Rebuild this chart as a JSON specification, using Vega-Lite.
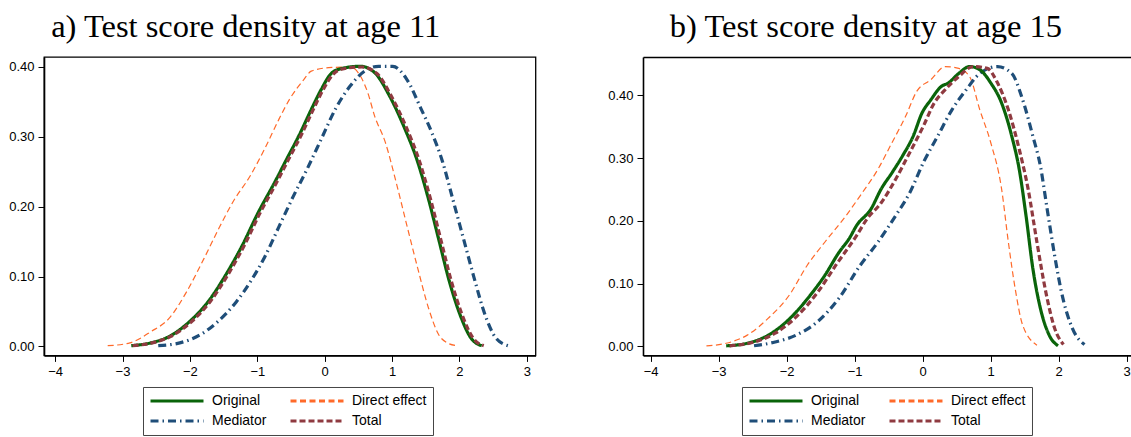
{
  "$schema": "https://vega.github.io/schema/vega-lite/v6.json",
  "padding": {"left": 8, "top": 10, "right": 0, "bottom": 0},
  "spacing": 70,
  "datasets": {
    "age11": [
      {"series": "Direct effect", "x": -3.22, "y": 0.001},
      {"series": "Direct effect", "x": -2.89, "y": 0.005},
      {"series": "Direct effect", "x": -2.58, "y": 0.021},
      {"series": "Direct effect", "x": -2.31, "y": 0.040},
      {"series": "Direct effect", "x": -2.05, "y": 0.078},
      {"series": "Direct effect", "x": -1.79, "y": 0.126},
      {"series": "Direct effect", "x": -1.57, "y": 0.169},
      {"series": "Direct effect", "x": -1.36, "y": 0.207},
      {"series": "Direct effect", "x": -1.10, "y": 0.245},
      {"series": "Direct effect", "x": -0.89, "y": 0.283},
      {"series": "Direct effect", "x": -0.68, "y": 0.325},
      {"series": "Direct effect", "x": -0.52, "y": 0.354},
      {"series": "Direct effect", "x": -0.31, "y": 0.382},
      {"series": "Direct effect", "x": -0.20, "y": 0.394},
      {"series": "Direct effect", "x": 0.06, "y": 0.399},
      {"series": "Direct effect", "x": 0.38, "y": 0.400},
      {"series": "Direct effect", "x": 0.53, "y": 0.387},
      {"series": "Direct effect", "x": 0.64, "y": 0.363},
      {"series": "Direct effect", "x": 0.74, "y": 0.330},
      {"series": "Direct effect", "x": 0.90, "y": 0.292},
      {"series": "Direct effect", "x": 1.06, "y": 0.235},
      {"series": "Direct effect", "x": 1.22, "y": 0.173},
      {"series": "Direct effect", "x": 1.38, "y": 0.112},
      {"series": "Direct effect", "x": 1.54, "y": 0.055},
      {"series": "Direct effect", "x": 1.69, "y": 0.017},
      {"series": "Direct effect", "x": 1.82, "y": 0.005},
      {"series": "Direct effect", "x": 1.96, "y": 0.001},

      {"series": "Mediator", "x": -2.47, "y": 0.001},
      {"series": "Mediator", "x": -2.15, "y": 0.005},
      {"series": "Mediator", "x": -1.84, "y": 0.017},
      {"series": "Mediator", "x": -1.58, "y": 0.036},
      {"series": "Mediator", "x": -1.31, "y": 0.064},
      {"series": "Mediator", "x": -1.10, "y": 0.093},
      {"series": "Mediator", "x": -0.89, "y": 0.128},
      {"series": "Mediator", "x": -0.68, "y": 0.171},
      {"series": "Mediator", "x": -0.47, "y": 0.214},
      {"series": "Mediator", "x": -0.26, "y": 0.254},
      {"series": "Mediator", "x": -0.05, "y": 0.297},
      {"series": "Mediator", "x": 0.16, "y": 0.340},
      {"series": "Mediator", "x": 0.38, "y": 0.373},
      {"series": "Mediator", "x": 0.59, "y": 0.394},
      {"series": "Mediator", "x": 0.80, "y": 0.401},
      {"series": "Mediator", "x": 1.01, "y": 0.401},
      {"series": "Mediator", "x": 1.22, "y": 0.382},
      {"series": "Mediator", "x": 1.43, "y": 0.340},
      {"series": "Mediator", "x": 1.59, "y": 0.306},
      {"series": "Mediator", "x": 1.75, "y": 0.264},
      {"series": "Mediator", "x": 1.90, "y": 0.211},
      {"series": "Mediator", "x": 2.06, "y": 0.154},
      {"series": "Mediator", "x": 2.22, "y": 0.097},
      {"series": "Mediator", "x": 2.38, "y": 0.045},
      {"series": "Mediator", "x": 2.54, "y": 0.012},
      {"series": "Mediator", "x": 2.72, "y": 0.001},

      {"series": "Original", "x": -2.87, "y": 0.001},
      {"series": "Original", "x": -2.58, "y": 0.005},
      {"series": "Original", "x": -2.31, "y": 0.014},
      {"series": "Original", "x": -2.00, "y": 0.036},
      {"series": "Original", "x": -1.73, "y": 0.064},
      {"series": "Original", "x": -1.47, "y": 0.102},
      {"series": "Original", "x": -1.21, "y": 0.147},
      {"series": "Original", "x": -1.00, "y": 0.189},
      {"series": "Original", "x": -0.73, "y": 0.237},
      {"series": "Original", "x": -0.57, "y": 0.267},
      {"series": "Original", "x": -0.36, "y": 0.306},
      {"series": "Original", "x": -0.20, "y": 0.339},
      {"series": "Original", "x": -0.05, "y": 0.368},
      {"series": "Original", "x": 0.09, "y": 0.390},
      {"series": "Original", "x": 0.22, "y": 0.397},
      {"series": "Original", "x": 0.53, "y": 0.401},
      {"series": "Original", "x": 0.74, "y": 0.392},
      {"series": "Original", "x": 0.96, "y": 0.359},
      {"series": "Original", "x": 1.17, "y": 0.316},
      {"series": "Original", "x": 1.38, "y": 0.264},
      {"series": "Original", "x": 1.54, "y": 0.211},
      {"series": "Original", "x": 1.69, "y": 0.154},
      {"series": "Original", "x": 1.85, "y": 0.093},
      {"series": "Original", "x": 2.01, "y": 0.045},
      {"series": "Original", "x": 2.17, "y": 0.012},
      {"series": "Original", "x": 2.33, "y": 0.001},

      {"series": "Total", "x": -2.85, "y": 0.001},
      {"series": "Total", "x": -2.56, "y": 0.005},
      {"series": "Total", "x": -2.29, "y": 0.014},
      {"series": "Total", "x": -1.97, "y": 0.036},
      {"series": "Total", "x": -1.70, "y": 0.064},
      {"series": "Total", "x": -1.44, "y": 0.102},
      {"series": "Total", "x": -1.18, "y": 0.147},
      {"series": "Total", "x": -0.97, "y": 0.189},
      {"series": "Total", "x": -0.70, "y": 0.237},
      {"series": "Total", "x": -0.54, "y": 0.267},
      {"series": "Total", "x": -0.33, "y": 0.306},
      {"series": "Total", "x": -0.17, "y": 0.339},
      {"series": "Total", "x": -0.02, "y": 0.368},
      {"series": "Total", "x": 0.12, "y": 0.389},
      {"series": "Total", "x": 0.25, "y": 0.397},
      {"series": "Total", "x": 0.55, "y": 0.400},
      {"series": "Total", "x": 0.77, "y": 0.391},
      {"series": "Total", "x": 0.99, "y": 0.358},
      {"series": "Total", "x": 1.20, "y": 0.316},
      {"series": "Total", "x": 1.41, "y": 0.264},
      {"series": "Total", "x": 1.57, "y": 0.211},
      {"series": "Total", "x": 1.72, "y": 0.154},
      {"series": "Total", "x": 1.88, "y": 0.093},
      {"series": "Total", "x": 2.04, "y": 0.045},
      {"series": "Total", "x": 2.20, "y": 0.012},
      {"series": "Total", "x": 2.36, "y": 0.001}
    ],
    "age15": [
      {"series": "Direct effect", "x": -3.18, "y": 0.001},
      {"series": "Direct effect", "x": -2.89, "y": 0.005},
      {"series": "Direct effect", "x": -2.58, "y": 0.018},
      {"series": "Direct effect", "x": -2.27, "y": 0.045},
      {"series": "Direct effect", "x": -1.96, "y": 0.082},
      {"series": "Direct effect", "x": -1.70, "y": 0.129},
      {"series": "Direct effect", "x": -1.44, "y": 0.166},
      {"series": "Direct effect", "x": -1.13, "y": 0.208},
      {"series": "Direct effect", "x": -0.92, "y": 0.240},
      {"series": "Direct effect", "x": -0.66, "y": 0.282},
      {"series": "Direct effect", "x": -0.45, "y": 0.325},
      {"series": "Direct effect", "x": -0.25, "y": 0.367},
      {"series": "Direct effect", "x": -0.09, "y": 0.406},
      {"series": "Direct effect", "x": 0.12, "y": 0.425},
      {"series": "Direct effect", "x": 0.33, "y": 0.446},
      {"series": "Direct effect", "x": 0.53, "y": 0.443},
      {"series": "Direct effect", "x": 0.69, "y": 0.430},
      {"series": "Direct effect", "x": 0.84, "y": 0.377},
      {"series": "Direct effect", "x": 1.00, "y": 0.325},
      {"series": "Direct effect", "x": 1.16, "y": 0.251},
      {"series": "Direct effect", "x": 1.26, "y": 0.166},
      {"series": "Direct effect", "x": 1.36, "y": 0.092},
      {"series": "Direct effect", "x": 1.47, "y": 0.034},
      {"series": "Direct effect", "x": 1.68, "y": 0.002},

      {"series": "Mediator", "x": -2.48, "y": 0.001},
      {"series": "Mediator", "x": -2.17, "y": 0.007},
      {"series": "Mediator", "x": -1.86, "y": 0.018},
      {"series": "Mediator", "x": -1.54, "y": 0.040},
      {"series": "Mediator", "x": -1.23, "y": 0.077},
      {"series": "Mediator", "x": -0.92, "y": 0.129},
      {"series": "Mediator", "x": -0.66, "y": 0.166},
      {"series": "Mediator", "x": -0.40, "y": 0.208},
      {"series": "Mediator", "x": -0.19, "y": 0.245},
      {"series": "Mediator", "x": 0.01, "y": 0.293},
      {"series": "Mediator", "x": 0.22, "y": 0.335},
      {"series": "Mediator", "x": 0.43, "y": 0.377},
      {"series": "Mediator", "x": 0.64, "y": 0.409},
      {"series": "Mediator", "x": 0.84, "y": 0.435},
      {"series": "Mediator", "x": 1.10, "y": 0.446},
      {"series": "Mediator", "x": 1.31, "y": 0.435},
      {"series": "Mediator", "x": 1.47, "y": 0.393},
      {"series": "Mediator", "x": 1.62, "y": 0.335},
      {"series": "Mediator", "x": 1.73, "y": 0.288},
      {"series": "Mediator", "x": 1.83, "y": 0.219},
      {"series": "Mediator", "x": 1.94, "y": 0.145},
      {"series": "Mediator", "x": 2.04, "y": 0.087},
      {"series": "Mediator", "x": 2.20, "y": 0.029},
      {"series": "Mediator", "x": 2.38, "y": 0.003},

      {"series": "Original", "x": -2.89, "y": 0.001},
      {"series": "Original", "x": -2.58, "y": 0.005},
      {"series": "Original", "x": -2.27, "y": 0.018},
      {"series": "Original", "x": -2.06, "y": 0.034},
      {"series": "Original", "x": -1.86, "y": 0.055},
      {"series": "Original", "x": -1.65, "y": 0.082},
      {"series": "Original", "x": -1.44, "y": 0.113},
      {"series": "Original", "x": -1.23, "y": 0.150},
      {"series": "Original", "x": -1.08, "y": 0.172},
      {"series": "Original", "x": -0.97, "y": 0.193},
      {"series": "Original", "x": -0.76, "y": 0.219},
      {"series": "Original", "x": -0.61, "y": 0.251},
      {"series": "Original", "x": -0.45, "y": 0.277},
      {"series": "Original", "x": -0.30, "y": 0.303},
      {"series": "Original", "x": -0.14, "y": 0.335},
      {"series": "Original", "x": -0.01, "y": 0.372},
      {"series": "Original", "x": 0.12, "y": 0.393},
      {"series": "Original", "x": 0.27, "y": 0.414},
      {"series": "Original", "x": 0.38, "y": 0.420},
      {"series": "Original", "x": 0.53, "y": 0.435},
      {"series": "Original", "x": 0.69, "y": 0.446},
      {"series": "Original", "x": 0.84, "y": 0.441},
      {"series": "Original", "x": 1.00, "y": 0.420},
      {"series": "Original", "x": 1.16, "y": 0.388},
      {"series": "Original", "x": 1.31, "y": 0.335},
      {"series": "Original", "x": 1.42, "y": 0.282},
      {"series": "Original", "x": 1.52, "y": 0.208},
      {"series": "Original", "x": 1.62, "y": 0.124},
      {"series": "Original", "x": 1.73, "y": 0.061},
      {"series": "Original", "x": 1.86, "y": 0.018},
      {"series": "Original", "x": 1.99, "y": 0.001},

      {"series": "Total", "x": -2.84, "y": 0.001},
      {"series": "Total", "x": -2.48, "y": 0.007},
      {"series": "Total", "x": -2.17, "y": 0.021},
      {"series": "Total", "x": -1.86, "y": 0.047},
      {"series": "Total", "x": -1.54, "y": 0.087},
      {"series": "Total", "x": -1.28, "y": 0.129},
      {"series": "Total", "x": -0.97, "y": 0.177},
      {"series": "Total", "x": -0.82, "y": 0.203},
      {"series": "Total", "x": -0.61, "y": 0.229},
      {"series": "Total", "x": -0.40, "y": 0.266},
      {"series": "Total", "x": -0.19, "y": 0.309},
      {"series": "Total", "x": 0.01, "y": 0.351},
      {"series": "Total", "x": 0.17, "y": 0.388},
      {"series": "Total", "x": 0.33, "y": 0.409},
      {"series": "Total", "x": 0.53, "y": 0.430},
      {"series": "Total", "x": 0.74, "y": 0.446},
      {"series": "Total", "x": 0.95, "y": 0.443},
      {"series": "Total", "x": 1.10, "y": 0.420},
      {"series": "Total", "x": 1.26, "y": 0.377},
      {"series": "Total", "x": 1.42, "y": 0.314},
      {"series": "Total", "x": 1.55, "y": 0.251},
      {"series": "Total", "x": 1.68, "y": 0.166},
      {"series": "Total", "x": 1.81, "y": 0.087},
      {"series": "Total", "x": 1.94, "y": 0.029},
      {"series": "Total", "x": 2.07, "y": 0.003}
    ]
  },
  "hconcat": [
    {
      "width": 491.5,
      "height": 298.4,
      "title": {"text": "a) Test score density at age 11", "dx": -44},
      "data": {"name": "age11"},
      "mark": {"type": "line", "interpolate": "monotone"},
      "encoding": {
        "x": {"field": "x", "type": "quantitative",
              "scale": {"domain": [-4.165, 3.128], "nice": false, "zero": false},
              "axis": {"values": [-4, -3, -2, -1, 0, 1, 2, 3], "format": "d", "title": null}},
        "y": {"field": "y", "type": "quantitative",
              "scale": {"domain": [-0.0129, 0.4143], "nice": false, "zero": false},
              "axis": {"values": [0, 0.1, 0.2, 0.3, 0.4], "format": ".2f", "title": null}},
        "color": {"field": "series", "type": "nominal",
                  "scale": {"domain": ["Original", "Mediator", "Direct effect", "Total"],
                            "range": ["#0a640a", "#1f4e79", "#ff6a2a", "#8f3a40"]},
                  "legend": {"title": null}},
        "strokeDash": {"field": "series", "type": "nominal",
                       "scale": {"domain": ["Original", "Mediator", "Direct effect", "Total"],
                                 "range": [[1, 0], [8, 4, 1.5, 4], [6, 3.5], [6, 3]]},
                       "legend": {"title": null}},
        "strokeWidth": {"condition": {"test": "datum.series === 'Direct effect'", "value": 1.2}, "value": 3.2}
      }
    },
    {
      "width": 488,
      "height": 298.4,
      "view": {"stroke": null},
      "title": {"text": "b) Test score density at age 15", "dx": -21},
      "data": {"name": "age15"},
      "layer": [
        {
          "mark": {"type": "line", "interpolate": "monotone"},
          "encoding": {
            "x": {"field": "x", "type": "quantitative",
                  "scale": {"domain": [-4.113, 3.063], "nice": false, "zero": false},
                  "axis": {"values": [-4, -3, -2, -1, 0, 1, 2, 3], "format": "d", "title": null}},
            "y": {"field": "y", "type": "quantitative",
                  "scale": {"domain": [-0.0143, 0.4612], "nice": false, "zero": false},
                  "axis": {"values": [0, 0.1, 0.2, 0.3, 0.4], "format": ".2f", "title": null}},
            "color": {"field": "series", "type": "nominal",
                      "scale": {"domain": ["Original", "Mediator", "Direct effect", "Total"],
                                "range": ["#0a640a", "#1f4e79", "#ff6a2a", "#8f3a40"]},
                      "legend": {"title": null}},
            "strokeDash": {"field": "series", "type": "nominal",
                           "scale": {"domain": ["Original", "Mediator", "Direct effect", "Total"],
                                     "range": [[1, 0], [8, 4, 1.5, 4], [6, 3.5], [6, 3]]},
                           "legend": {"title": null}},
            "strokeWidth": {"condition": {"test": "datum.series === 'Direct effect'", "value": 1.2}, "value": 3.2}
          }
        },
        {
          "mark": {"type": "point", "opacity": 0},
          "encoding": {
            "x": {"field": "x", "type": "quantitative",
                  "axis": {"orient": "top", "labels": false, "ticks": false, "domain": true,
                           "domainWidth": 1.3, "title": null, "minExtent": 0, "maxExtent": 0}}
          }
        }
      ],
      "resolve": {"axis": {"x": "independent"}}
    }
  ],
  "resolve": {"scale": {"color": "independent", "strokeDash": "independent", "x": "independent", "y": "independent"}},
  "config": {
    "background": "white",
    "view": {"stroke": "black", "strokeWidth": 1.3},
    "axis": {"grid": false, "domainColor": "black", "domainWidth": 1.6, "tickColor": "black",
             "tickSize": 6, "tickWidth": 1, "labelColor": "black", "labelFont": "Liberation Sans",
             "labelFontSize": 13, "labelPadding": 4},
    "title": {"font": "Liberation Serif", "fontSize": 32.5, "fontWeight": "normal", "color": "black",
              "anchor": "middle", "frame": "group", "offset": 13},
    "legend": {"orient": "none", "legendX": 99, "legendY": 330, "columns": 2,
               "symbolType": "stroke", "symbolSize": 2809, "symbolStrokeWidth": 3, "clipHeight": 16,
               "labelFont": "Liberation Sans", "labelFontSize": 14, "labelColor": "black",
               "labelOffset": 7, "columnPadding": 22, "rowPadding": 4, "padding": 6,
               "strokeColor": "#444", "fillColor": "white"}
  }
}
